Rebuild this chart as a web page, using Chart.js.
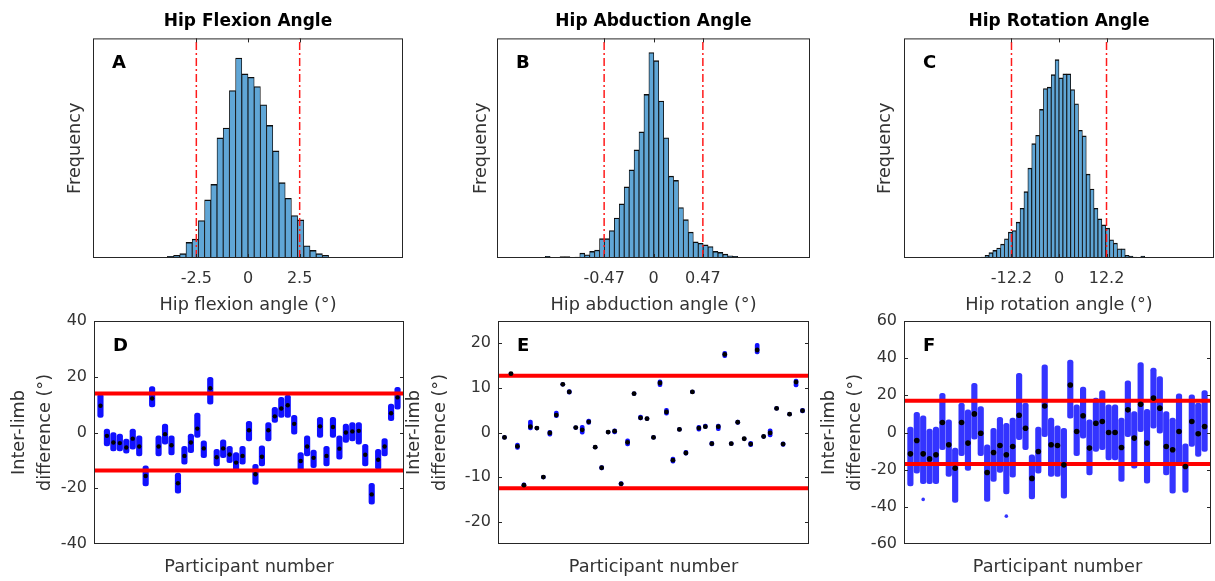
<!DOCTYPE html>
<html>
<head>
<meta charset="utf-8">
<script src="https://cdn.jsdelivr.net/npm/chart.js@4.4.1/dist/chart.umd.min.js"></script>
<style>
  html, body { margin: 0; padding: 0; background: #fff; }
  body { width: 1215px; height: 581px; position: relative; overflow: hidden; }
  canvas { position: absolute; }
</style>
</head>
<body>
<canvas id="chartA" width="360" height="320" style="left:55px;top:0px"></canvas>
<canvas id="chartB" width="365" height="320" style="left:455px;top:0px"></canvas>
<canvas id="chartC" width="355" height="320" style="left:860px;top:0px"></canvas>
<canvas id="chartD" width="420" height="281" style="left:0px;top:300px"></canvas>
<canvas id="chartE" width="420" height="281" style="left:400px;top:300px"></canvas>
<canvas id="chartF" width="405" height="281" style="left:810px;top:300px"></canvas>
<script>
// ---- histogram data (bin start, bin width, counts) ----
const flexionBinStart = -3.9;
const flexionBinWidth = 0.3;
const flexionCounts = [5, 8, 13, 47, 57, 113, 175, 222, 362, 392, 505, 603, 555, 545, 517, 462, 400, 323, 227, 180, 128, 115, 37, 23, 13, 8];
const flexionLimit = 2.5;
const flexionTicks = [-2.5, 0, 2.5];

const abductionBinStart = -1.031;
const abductionBinWidth = 0.047;
const abductionCounts = [5, 0, 0, 4, 4, 0, 3, 15, 10, 20, 24, 59, 59, 84, 122, 165, 217, 269, 330, 385, 499, 627, 602, 479, 367, 250, 237, 154, 117, 79, 49, 45, 40, 35, 20, 17, 12, 7, 5, 2];
const abductionLimit = 0.47;
const abductionTicks = [-0.47, 0, 0.47];

const rotationBinStart = -20;
const rotationBinWidth = 1;
const rotationCounts = [3, 8, 16, 23, 30, 42, 58, 78, 83, 108, 150, 200, 271, 345, 370, 448, 511, 515, 553, 598, 543, 555, 555, 508, 465, 385, 368, 253, 208, 150, 118, 100, 90, 55, 45, 28, 28, 8, 6, 3, 0, 6];
const rotationLimit = 12.2;
const rotationTicks = [-12.2, 0, 12.2];

// ---- inter-limb differences per participant (mean, lowest, highest trial) ----
const participants = Array.from({length: 47}, (_, i) => i + 1);

const flexMean = [9.6, -1.2, -3.6, -3.8, -5.4, -2.2, -5.0, -15.6, 12.2, -5.0, -0.6, -4.6, -18.2, -8.4, -3.6, 1.4, -5.7, 15.9, -8.9, -5.7, -7.9, -10.8, -8.4, 0.8, -15.0, -8.7, 0.8, 5.8, 8.6, 9.8, 3.1, -10.2, -5.0, -9.1, 2.2, -8.4, 2.0, -5.8, 0.0, 0.4, 0.6, -8.0, -22.2, -9.8, -5.0, 6.9, 12.6];
const flexLow = [5.4, -4.8, -6.6, -6.6, -7.4, -6.0, -8.4, -19.2, 9.2, -8.4, -4.2, -8.0, -21.8, -11.4, -7.2, -1.8, -9.0, 10.2, -12.0, -9.0, -10.8, -13.8, -11.4, -3.0, -18.6, -12.0, -3.0, 3.6, 5.4, 5.4, -0.6, -13.8, -8.4, -12.6, -1.8, -12.0, -1.8, -9.6, -3.6, -3.0, -4.2, -12.0, -25.7, -13.2, -8.4, 4.2, 8.4];
const flexHigh = [13.8, 1.2, 0.0, -0.6, -2.4, 1.2, -1.2, -12.0, 16.5, -1.2, 3.0, -1.2, -14.6, -5.0, -0.6, 7.0, -3.0, 19.8, -6.0, -2.6, -5.0, -7.2, -5.0, 4.0, -11.4, -4.8, 3.6, 9.0, 12.6, 13.4, 6.2, -7.2, -1.2, -6.3, 5.4, -5.0, 5.4, -1.2, 3.0, 3.6, 3.6, -4.2, -18.2, -6.0, -2.2, 10.2, 16.2];
const flexLimits = [14.0, -13.6];

const abdMean = [-1.1, 13.2, -3.1, -11.8, 1.3, 1.0, -10.0, -0.1, 3.9, 10.8, 9.1, 1.1, 0.6, 2.4, -3.3, -7.9, 0.1, 0.3, -11.5, -2.2, 8.7, 3.3, 3.1, -1.1, 11.1, 4.6, -6.2, 0.7, -4.6, 9.1, 1.0, 1.3, -2.5, 1.3, 17.5, -2.5, 2.3, -1.4, -2.6, 18.5, -0.9, -0.1, 5.4, -2.6, 4.1, 11.3, 4.9];
const abdLow = [-1.5, 12.9, -3.8, -12.3, 0.6, 0.6, -10.4, -0.8, 3.3, 10.4, 8.6, 0.7, -0.4, 1.8, -3.7, -8.4, -0.3, -0.3, -12.0, -3.0, 8.3, 2.8, 2.7, -1.5, 10.3, 3.9, -6.9, 0.3, -5.1, 8.7, 0.3, 0.9, -3.0, 0.4, 16.8, -2.9, 1.8, -1.8, -3.2, 17.6, -1.3, -1.0, 5.0, -3.1, 3.7, 10.2, 4.4];
const abdHigh = [-0.7, 13.5, -2.4, -11.3, 2.8, 1.4, -9.6, 0.5, 4.8, 11.2, 9.6, 1.5, 1.6, 3.0, -2.9, -7.4, 0.5, 0.8, -11.0, -1.4, 9.1, 3.9, 3.5, -0.7, 11.8, 5.4, -5.5, 1.1, -4.0, 9.5, 1.6, 1.9, -2.0, 1.9, 18.2, -2.1, 2.8, -1.0, -2.0, 20.0, -0.5, 0.8, 5.8, -2.1, 4.5, 12.0, 5.4];
const abdLimits = [12.7, -12.5];

const rotMean = [-11.5, -4.3, -11.5, -14.2, -12.0, 5.4, -6.6, -19.2, 5.4, -5.7, 10.0, -0.4, -21.5, -10.8, -7.0, -12.0, -7.5, 9.3, 2.3, -24.7, -10.2, 14.3, -6.6, -7.0, -17.4, 25.6, 0.5, 9.0, -8.4, 5.0, 5.9, 0.0, 0.0, -8.1, 12.2, -3.0, 15.2, -5.7, 18.5, 13.1, -7.5, -9.3, 0.5, -18.3, 5.9, -0.7, 3.2];
const rotLow = [-28.7, -21.9, -27.6, -27.6, -27.6, -9.3, -23.7, -37.6, -12.5, -20.4, -3.6, -12.5, -37.1, -26.3, -21.5, -33.0, -24.0, -3.9, -9.3, -35.8, -21.9, -2.2, -23.7, -23.7, -35.3, 7.7, -12.5, -3.0, -22.8, -10.2, -9.3, -14.7, -14.7, -26.3, -2.2, -19.2, 0.5, -27.2, 2.3, -0.4, -22.8, -32.6, -17.4, -32.3, -7.5, -12.9, -10.2];
const rotHigh = [2.9, 10.8, 9.0, 1.8, 2.9, 21.1, 6.8, -8.4, 15.8, 12.2, 26.5, 14.0, -6.6, 2.3, 8.2, 5.0, 7.7, 31.9, 15.8, -12.0, 2.9, 36.4, 7.7, 3.6, 2.3, 39.0, 14.9, 24.4, 6.8, 18.5, 22.6, 14.9, 14.9, 7.7, 27.8, 11.3, 37.6, 12.5, 34.6, 30.1, 11.3, 7.7, 20.8, -6.1, 20.3, 15.8, 22.6];
const rotOutlierX = [3, 16];
const rotOutlierY = [-36, -45];
const rotLimits = [17.1, -16.9];

Chart.defaults.font.family = '"DejaVu Sans", sans-serif';
Chart.defaults.color = '#333';
Chart.defaults.animation = false;
Chart.defaults.plugins.legend.display = false;
Chart.defaults.plugins.tooltip.enabled = false;

// box around the axes, inward tick marks and the panel letter
Chart.register({
    id: 'frame',
    afterDatasetsDraw(chart, args, opts) {
        const {ctx, chartArea: a} = chart;
        ctx.save();
        ctx.strokeStyle = '#262626';
        ctx.lineWidth = 1;
        ctx.strokeRect(a.left + 0.5, a.top + 0.5, a.right - a.left - 1, a.bottom - a.top - 1);
        const scale = chart.scales[opts.tickAxis];
        ctx.beginPath();
        scale.ticks.forEach(t => {
            const p = Math.round(scale.getPixelForValue(t.value)) + 0.5;
            if (scale.isHorizontal()) {
                ctx.moveTo(p, a.bottom); ctx.lineTo(p, a.bottom - 4);
                ctx.moveTo(p, a.top); ctx.lineTo(p, a.top + 4);
            } else {
                if (p < a.top + 2 || p > a.bottom - 2) return;
                ctx.moveTo(a.left, p); ctx.lineTo(a.left + 4, p);
                ctx.moveTo(a.right, p); ctx.lineTo(a.right - 4, p);
            }
        });
        ctx.stroke();
        ctx.fillStyle = '#000';
        ctx.font = 'bold 18px "DejaVu Sans"';
        ctx.textBaseline = 'alphabetic';
        ctx.fillText(opts.letter, a.left + 19, a.top + 30);
        ctx.restore();
    }
});

function histogram(id, cfg) {
    const bars = cfg.counts.map((c, i) => ({x: cfg.start + (i + 0.5) * cfg.width, y: c}));
    const limitLine = v => ({
        type: 'line',
        data: [{x: v, y: 0}, {x: v, y: cfg.yMax}],
        borderColor: '#ff1a1a',
        borderWidth: 1.5,
        borderDash: [8, 3, 2, 3],
        pointRadius: 0,
        order: 0
    });
    return new Chart(document.getElementById(id), {
        type: 'bar',
        data: {
            datasets: [
                limitLine(-cfg.limit),
                limitLine(cfg.limit),
                {
                    type: 'bar',
                    data: bars,
                    backgroundColor: 'rgb(96, 166, 214)',
                    borderColor: '#0d0d0d',
                    borderWidth: {top: 1.4, left: 0.85, right: 0.85, bottom: 0},
                    barPercentage: 1,
                    categoryPercentage: 1,
                    order: 1
                }
            ]
        },
        options: {
            responsive: false,
            devicePixelRatio: 1,
            layout: {padding: {right: cfg.padRight}},
            plugins: {
                title: {
                    display: true,
                    text: cfg.title,
                    color: '#000',
                    font: {size: 17, weight: 'bold'},
                    padding: {top: 11, bottom: 7},
                    fullSize: false
                },
                frame: {letter: cfg.letter, tickAxis: 'x'}
            },
            scales: {
                x: {
                    type: 'linear',
                    min: -cfg.range,
                    max: cfg.range,
                    offset: false,
                    grid: {display: false, drawTicks: false},
                    border: {display: false},
                    afterBuildTicks: s => { s.ticks = cfg.ticks.map(v => ({value: v})); },
                    afterFit: s => { s.height = 62; },
                    ticks: {callback: v => String(v), font: {size: 16}, padding: 11, maxRotation: 0, autoSkip: false},
                    title: {display: true, text: cfg.xTitle, font: {size: 17.7}, padding: {top: 0, bottom: 4}}
                },
                y: {
                    min: 0,
                    max: cfg.yMax,
                    grid: {display: false, drawTicks: false},
                    border: {display: false},
                    ticks: {display: false},
                    afterFit: s => { s.width = cfg.yWidth; },
                    title: {display: true, text: 'Frequency', font: {size: 17.7}, padding: {top: cfg.yTitlePad, bottom: 0}}
                }
            }
        }
    });
}

function differences(id, cfg) {
    const limitLine = v => ({
        type: 'line',
        data: [{x: 0, y: v}, {x: 48, y: v}],
        borderColor: '#ff0000',
        borderWidth: 4,
        pointRadius: 0,
        order: 1
    });
    const datasets = [
        {
            type: 'line',
            showLine: false,
            data: participants.map((p, i) => ({x: p, y: cfg.mean[i]})),
            pointRadius: cfg.dotRadius,
            pointBackgroundColor: '#000',
            pointBorderWidth: 0,
            order: 0
        },
        limitLine(cfg.limits[0]),
        limitLine(cfg.limits[1]),
        {
            type: 'bar',
            data: participants.map((p, i) => ({x: p, y: [cfg.low[i], cfg.high[i]]})),
            backgroundColor: cfg.barColor,
            barThickness: cfg.barWidth,
            borderRadius: 2.5,
            borderSkipped: false,
            order: 2
        }
    ];
    if (cfg.outX) {
        datasets.push({
            type: 'line',
            showLine: false,
            data: cfg.outX.map((p, i) => ({x: p, y: cfg.outY[i]})),
            pointRadius: 1.8,
            pointBackgroundColor: cfg.barColor,
            pointBorderWidth: 0,
            order: 2
        });
    }
    return new Chart(document.getElementById(id), {
        type: 'bar',
        data: {datasets},
        options: {
            responsive: false,
            devicePixelRatio: 1,
            layout: {padding: {top: 21, right: cfg.padRight}},
            plugins: {frame: {letter: cfg.letter, tickAxis: 'y'}},
            scales: {
                x: {
                    type: 'linear',
                    min: 0,
                    max: 48,
                    offset: false,
                    grid: {display: false, drawTicks: false},
                    border: {display: false},
                    ticks: {display: false},
                    afterFit: s => { s.height = 37; },
                    title: {display: true, text: 'Participant number', font: {size: 17.7}, padding: {top: 0, bottom: 3.4}}
                },
                y: {
                    min: cfg.yTicks[0] - cfg.yPad,
                    max: cfg.yTicks[cfg.yTicks.length - 1] + cfg.yPad,
                    grid: {display: false, drawTicks: false},
                    border: {display: false},
                    afterBuildTicks: s => { s.ticks = cfg.yTicks.map(v => ({value: v})); },
                    afterFit: s => { s.width = cfg.yWidth; },
                    ticks: {font: {size: 16}, padding: 7, callback: v => String(v)},
                    title: {
                        display: true,
                        text: ['Inter-limb', 'difference (°)'],
                        font: {size: 17.7, lineHeight: 1.47},
                        padding: {top: cfg.yTitlePad, bottom: 0}
                    }
                }
            }
        }
    });
}

histogram('chartA', {
    title: 'Hip Flexion Angle', letter: 'A', xTitle: 'Hip flexion angle (°)',
    start: flexionBinStart, width: flexionBinWidth, counts: flexionCounts,
    limit: flexionLimit, ticks: flexionTicks, range: 7.5, yMax: 662,
    yWidth: 38, yTitlePad: 9.4, padRight: 12
});
histogram('chartB', {
    title: 'Hip Abduction Angle', letter: 'B', xTitle: 'Hip abduction angle (°)',
    start: abductionBinStart, width: abductionBinWidth, counts: abductionCounts,
    limit: abductionLimit, ticks: abductionTicks, range: 1.49, yMax: 670,
    yWidth: 42, yTitlePad: 15.4, padRight: 10
});
histogram('chartC', {
    title: 'Hip Rotation Angle', letter: 'C', xTitle: 'Hip rotation angle (°)',
    start: rotationBinStart, width: rotationBinWidth, counts: rotationCounts,
    limit: rotationLimit, ticks: rotationTicks, range: 39.8, yMax: 662,
    yWidth: 44, yTitlePad: 14.9, padRight: 1
});

differences('chartD', {
    letter: 'D', mean: flexMean, low: flexLow, high: flexHigh, limits: flexLimits,
    yTicks: [-40, -20, 0, 20, 40], yPad: 0, dotRadius: 2.2, barWidth: 5.5, barColor: '#1010ff',
    yWidth: 94, yTitlePad: 6.5, padRight: 16
});
differences('chartE', {
    letter: 'E', mean: abdMean, low: abdLow, high: abdHigh, limits: abdLimits,
    yTicks: [-20, -10, 0, 10, 20], yPad: 5, dotRadius: 2.4, barWidth: 4, barColor: '#1010ff',
    yWidth: 98, yTitlePad: 1.7, padRight: 11
});
differences('chartF', {
    letter: 'F', mean: rotMean, low: rotLow, high: rotHigh, limits: rotLimits,
    outX: rotOutlierX, outY: rotOutlierY,
    yTicks: [-60, -40, -20, 0, 20, 40, 60], yPad: 0, dotRadius: 2.8, barWidth: 5.5, barColor: 'rgba(16, 16, 255, 0.85)',
    yWidth: 94, yTitlePad: 6.5, padRight: 1
});
</script>
</body>
</html>
